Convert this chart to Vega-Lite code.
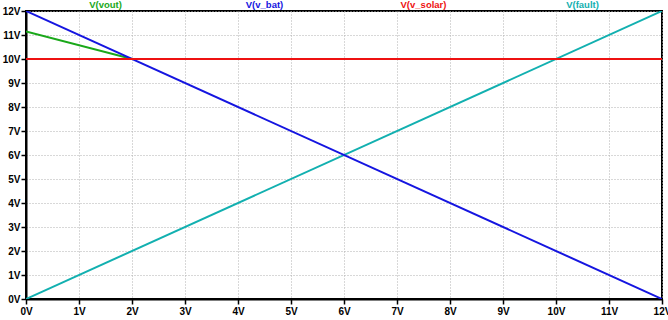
{
  "$schema": "https://vega.github.io/schema/vega-lite/v6.json",
  "width": 636,
  "height": 288,
  "autosize": {"type": "none"},
  "padding": {"left": 26, "top": 11, "right": 6, "bottom": 21},
  "background": "white",
  "config": {
    "view": {"stroke": "black", "strokeWidth": 2},
    "axis": {
      "labelFont": "Liberation Sans",
      "labelFontWeight": "bold",
      "labelFontSize": 10,
      "labelColor": "black",
      "domainColor": "black",
      "domainWidth": 2,
      "tickColor": "black",
      "tickWidth": 1.5,
      "tickSize": 5,
      "gridColor": "#b0b0b0",
      "gridDash": [1, 2],
      "gridWidth": 1,
      "labelOverlap": false,
      "labelFlush": false,
      "title": null
    }
  },
  "datasets": {
    "traces": [
      {"series": "V(vout)", "x": 0, "y": 11.15},
      {"series": "V(vout)", "x": 2, "y": 10},
      {"series": "V(vout)", "x": 12, "y": 10},
      {"series": "V(fault)", "x": 0, "y": 0},
      {"series": "V(fault)", "x": 12, "y": 12},
      {"series": "V(v_bat)", "x": 0, "y": 12},
      {"series": "V(v_bat)", "x": 12, "y": 0},
      {"series": "V(v_solar)", "x": 0, "y": 10},
      {"series": "V(v_solar)", "x": 12, "y": 10}
    ],
    "labels": [
      {"series": "V(vout)", "x": 1.5, "y": 12},
      {"series": "V(v_bat)", "x": 4.5, "y": 12},
      {"series": "V(v_solar)", "x": 7.5, "y": 12},
      {"series": "V(fault)", "x": 10.5, "y": 12}
    ]
  },
  "encoding": {
    "x": {
      "field": "x", "type": "quantitative",
      "scale": {"domain": [0, 12], "nice": false, "zero": false},
      "axis": {"values": [0,1,2,3,4,5,6,7,8,9,10,11,12], "labelExpr": "datum.value + 'V'", "labelPadding": 2}
    },
    "y": {
      "field": "y", "type": "quantitative",
      "scale": {"domain": [0, 12], "nice": false, "zero": false},
      "axis": {"values": [0,1,2,3,4,5,6,7,8,9,10,11,12], "tickCount": 13, "labelExpr": "datum.value + 'V'", "labelPadding": 1, "labelBaseline": "middle"}
    },
    "color": {
      "field": "series", "type": "nominal",
      "scale": {"domain": ["V(vout)", "V(v_bat)", "V(v_solar)", "V(fault)"], "range": ["#1aa81a", "#1515e0", "#ee1111", "#12b0b0"]},
      "legend": null
    }
  },
  "layer": [
    {
      "data": {"name": "traces"},
      "mark": {"type": "line", "strokeWidth": 2, "clip": true},
      "encoding": {
        "order": {"field": "series"},
        "detail": {"field": "series"}
      }
    },
    {
      "data": {"name": "labels"},
      "mark": {"type": "text", "font": "Liberation Sans", "fontWeight": "bold", "fontSize": 9.5, "dy": -3, "align": "center", "baseline": "alphabetic"},
      "encoding": {
        "text": {"field": "series"}
      }
    }
  ]
}
